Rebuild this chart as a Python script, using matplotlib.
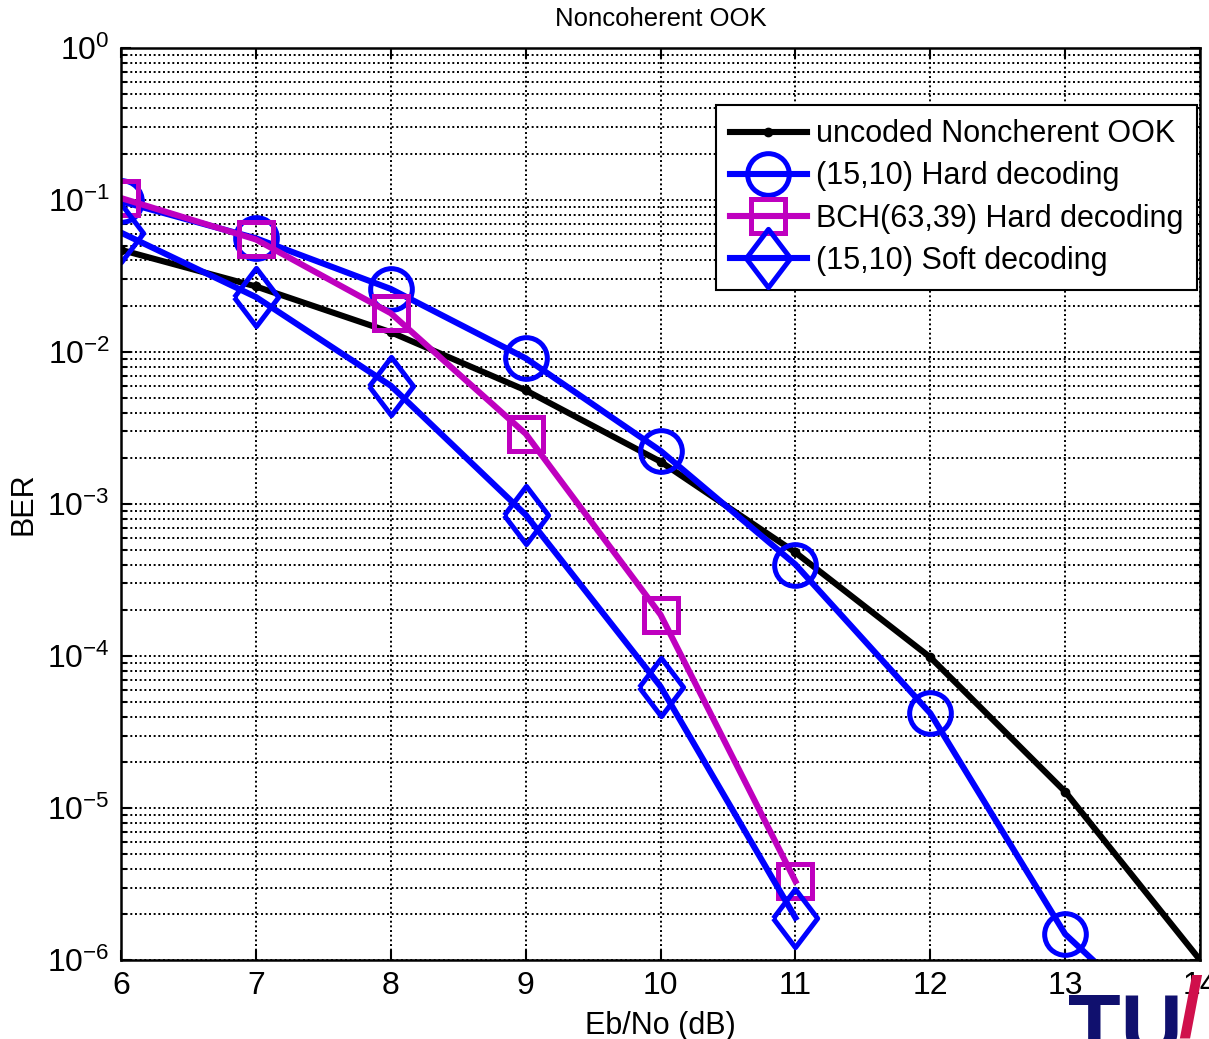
import numpy as np
import matplotlib.pyplot as plt
from matplotlib.ticker import FixedLocator, FuncFormatter, NullFormatter

plt.rcParams['font.family'] = ['Liberation Sans', 'DejaVu Sans']
plt.rcParams['mathtext.fontset'] = 'custom'
plt.rcParams['mathtext.rm'] = 'Liberation Sans'
plt.rcParams['axes.unicode_minus'] = False

# data
ebno = [6, 7, 8, 9, 10, 11, 12, 13, 14]
ber_uncoded = [0.047, 0.027, 0.0135, 0.0056, 0.0019, 4.8e-4, 9.8e-5, 1.28e-5, 1.0e-6]
ber_hard = [0.098, 0.056, 0.026, 0.0091, 0.00224, 4.0e-4, 4.2e-5, 1.48e-6, 2.2e-7]
ebno_short = [6, 7, 8, 9, 10, 11]
ber_bch = [0.103, 0.055, 0.018, 0.0029, 1.87e-4, 3.3e-6]
ber_soft = [0.061, 0.023, 0.006, 8.5e-4, 6.3e-5, 1.9e-6]

labels = ['uncoded Noncherent OOK', '(15,10) Hard decoding',
          'BCH(63,39) Hard decoding', '(15,10) Soft decoding']

blue = '#0000ff'
mag = '#bf00bf'
lw = 4.4
mew = 3.6
diamond = [(-0.76, 0), (0, 1), (0.76, 0), (0, -1), (-0.76, 0)]

fig = plt.figure(figsize=(12.09, 10.39), dpi=100, facecolor='white')
ax = fig.add_axes([0.1001, 0.076, 0.8925, 0.8778])

ax.semilogy(ebno, ber_uncoded, color='black', lw=lw, marker='.', ms=12,
            label=labels[0])
ax.semilogy(ebno, ber_hard, color=blue, lw=lw, marker='o', ms=30,
            mfc='none', mew=mew, label=labels[1])
ax.semilogy(ebno_short, ber_bch, color=mag, lw=lw, marker='s', ms=25,
            mfc='none', mew=mew, label=labels[2])
ax.semilogy(ebno_short, ber_soft, color=blue, lw=lw, marker=diamond, ms=42,
            mfc='none', mew=mew, label=labels[3])

ax.set_xlim(6, 14)
ax.set_ylim(1e-6, 1)
ax.xaxis.set_major_locator(FixedLocator(range(6, 15)))
ax.yaxis.set_major_locator(FixedLocator([10.0 ** k for k in range(-6, 1)]))
minors = [m * 10.0 ** k for k in range(-6, 0) for m in range(2, 10)]
ax.yaxis.set_minor_locator(FixedLocator(minors))
ax.yaxis.set_minor_formatter(NullFormatter())
ax.yaxis.set_major_formatter(FuncFormatter(
    lambda v, p: r'$\mathdefault{10^{%d}}$' % int(round(np.log10(v)))))

ax.grid(True, which='major', color='black', ls=(0, (1, 1.4)), lw=1.4)
ax.grid(True, which='minor', axis='y', color='black', ls=(0, (1, 1.4)), lw=1.4)

ax.tick_params(which='both', direction='in', top=True, right=True,
               labelsize=23, width=1.5)
ax.tick_params(which='major', length=7, pad=8)
ax.tick_params(which='minor', length=4)
for s in ax.spines.values():
    s.set_linewidth(1.8)

ax.set_title('Noncoherent OOK', fontsize=18.5, pad=16)
ax.set_xlabel('Eb/No (dB)', fontsize=22, labelpad=7)
ax.set_ylabel('BER', fontsize=22, labelpad=6)

leg = ax.legend(loc='upper right', bbox_to_anchor=(0.997, 0.937),
                borderaxespad=0, fontsize=22, fancybox=False, framealpha=1,
                edgecolor='black', handlelength=2.5, handletextpad=0.3,
                labelspacing=0.4, borderpad=0.45)
leg.get_frame().set_linewidth(1.5)

# logo fragment at the lower right corner
fig.text(1068 / 1209, 1 - 992 / 1039, 'TU', color='#10106e', fontsize=62,
         fontweight='bold', va='top', ha='left')
fig.text(1178 / 1209, 1 - 975 / 1039, '/', color='#d0104c', fontsize=62,
         fontweight='bold', va='top', ha='left')

fig.savefig('out.png', dpi=100)
